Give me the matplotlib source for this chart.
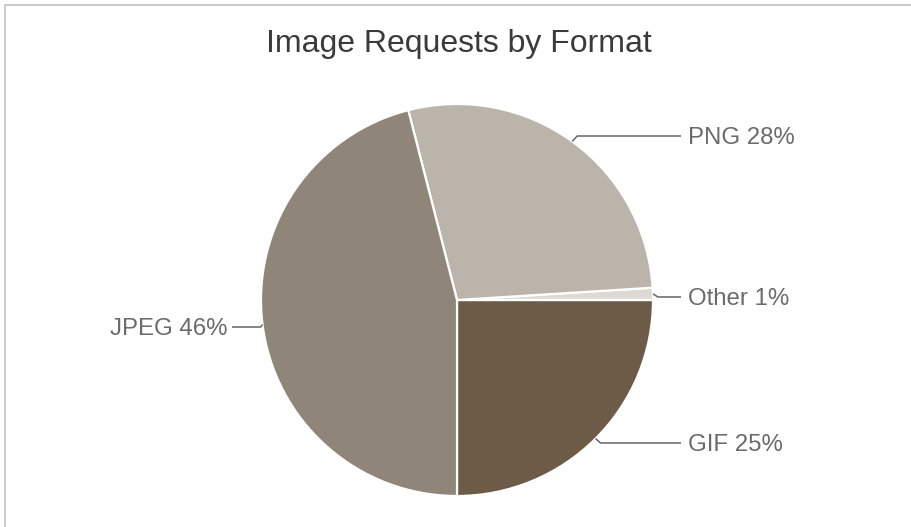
import numpy as np
import matplotlib
matplotlib.use("Agg")
import matplotlib.pyplot as plt

# slice data, in drawing order (counter-clockwise from 6 o'clock)
formats = ["GIF", "Other", "PNG", "JPEG"]
shares = [25, 1, 28, 46]
colors = ["#6b5b47", "#dedad3", "#bbb4ab", "#8f8578"]

W, H = 911, 527
plt.rcParams["font.family"] = ["Liberation Sans", "DejaVu Sans"]

fig = plt.figure(figsize=(W / 100, H / 100), dpi=100)
ax = fig.add_axes([0, 0, 1, 1])

# pixel layout
cx, cy, r = 457, H - 300, 196

wedges, _ = ax.pie(shares, colors=colors, startangle=-90, counterclock=True,
                   center=(cx, cy), radius=r, frame=True,
                   wedgeprops=dict(edgecolor="white", linewidth=1.6))
ax.set_xlim(0, W)
ax.set_ylim(0, H)
ax.set_aspect("equal")
ax.axis("off")

# label placement (text y in image pixels, measured from the top)
label_y = {"GIF": 443, "Other": 297, "PNG": 136, "JPEG": 327}
line_col = "#666666"
for w, name, val in zip(wedges, formats, shares):
    mid = np.deg2rad((w.theta1 + w.theta2) / 2)
    ex, ey = cx + r * np.cos(mid), cy + r * np.sin(mid)
    ty = H - label_y[name]
    if np.cos(mid) >= 0:
        xs = [ex, ex + 5, 681]
        tx, ha = 688, "left"
    else:
        xs = [ex, ex - 2, 232]
        tx, ha = 227, "right"
    ax.plot(xs, [ey, ty, ty], color=line_col, lw=1.1, solid_capstyle="butt")
    ax.text(tx, ty - 2, f"{name} {val}%", ha=ha, va="center",
            fontsize=17.3, color="#6b6b6b")

ax.text(459, H - 44, "Image Requests by Format", ha="center", va="center",
        fontsize=23, color="#3a3a3a")

# frame lines (top and left only)
ax.plot([4, W], [H - 5, H - 5], color="#cccccc", lw=1.5, solid_capstyle="butt")
ax.plot([5, 5], [0, H - 5], color="#cccccc", lw=1.5, solid_capstyle="butt")

fig.savefig("out.png", dpi=100)
